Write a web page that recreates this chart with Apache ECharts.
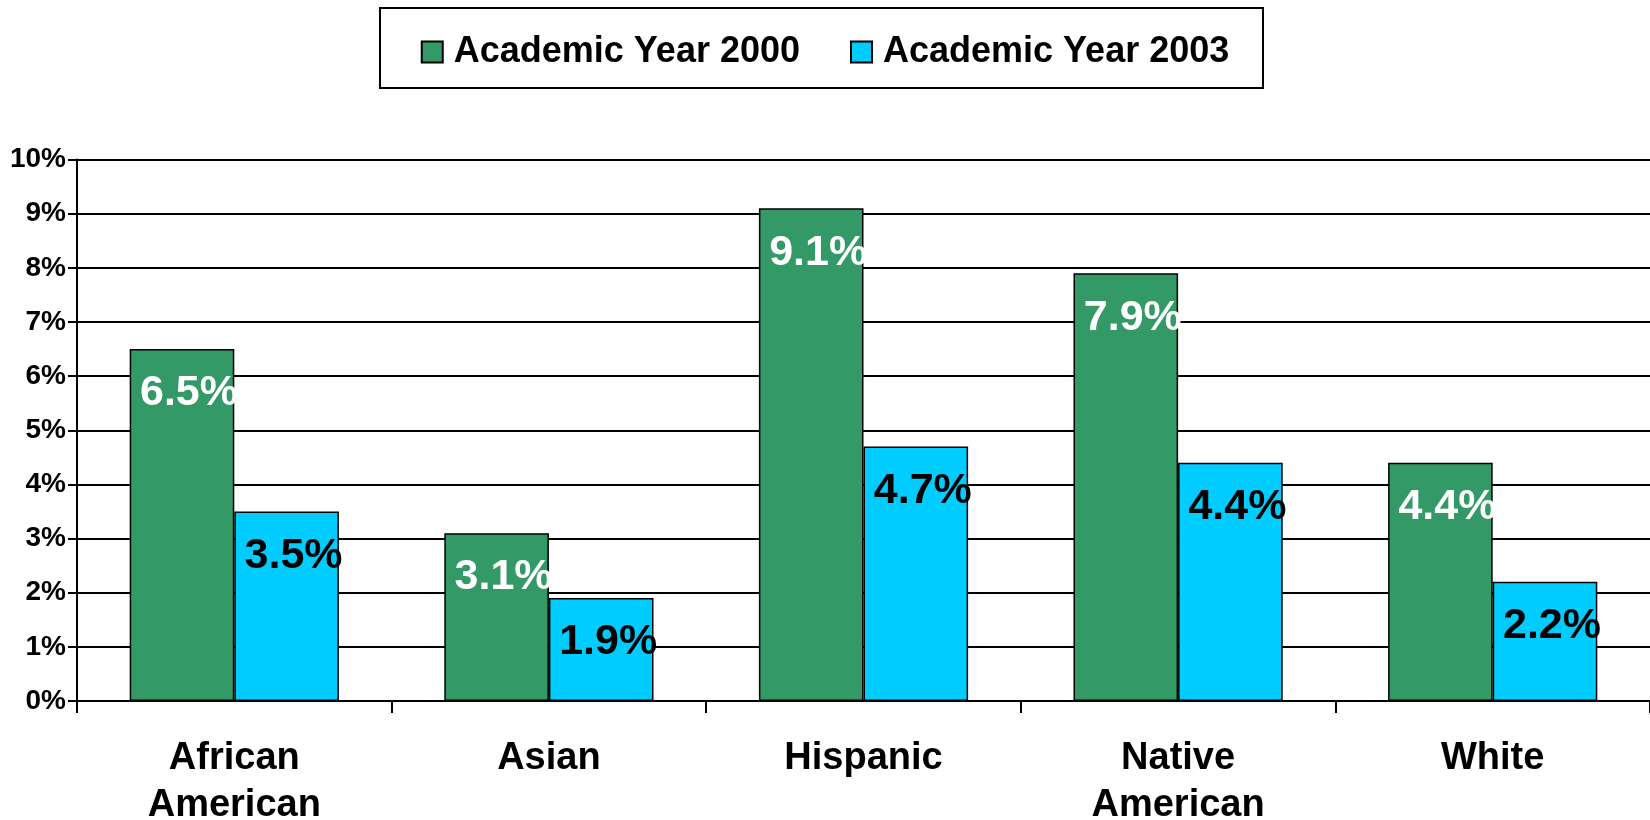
<!DOCTYPE html>
<html>
<head>
<meta charset="utf-8">
<script src="https://cdn.jsdelivr.net/npm/echarts@6/dist/echarts.min.js"></script>
<style>html,body{margin:0;padding:0;background:#fff}#c{width:1650px;height:820px}</style>
</head>
<body>
<div id="c"></div>
<script>
const categories = ['African\nAmerican', 'Asian', 'Hispanic', 'Native\nAmerican', 'White'];
const seriesNames = ['Academic Year 2000', 'Academic Year 2003'];
const year2000 = [6.5, 3.1, 9.1, 7.9, 4.4];
const year2003 = [3.5, 1.9, 4.7, 4.4, 2.2];
const yTicks = ['0%','1%','2%','3%','4%','5%','6%','7%','8%','9%','10%'];

const FONT = '"Liberation Sans", Arial, sans-serif';
const chart = echarts.init(document.getElementById('c'), null, {renderer: 'canvas'});

function barLabel(color) {
  return {
    show: true, position: 'insideTop', distance: 23, offset: [7, 0],
    formatter: p => p.value.toFixed(1) + '%',
    color: color, fontFamily: FONT, fontWeight: 'bold', fontSize: 43
  };
}

chart.setOption({
  animation: false,
  backgroundColor: '#fff',
  graphic: [{
    type: 'rect', left: 379, top: 7,
    shape: {width: 883, height: 80},
    style: {fill: '#fff', stroke: '#000', lineWidth: 2},
    z: -1
  }],
  legend: {
    left: 'center', top: 29,
    itemWidth: 21, itemHeight: 21, itemGap: 50,
    icon: 'rect',
    textStyle: {fontFamily: FONT, fontWeight: 'bold', fontSize: 36, color: '#000', padding: [0, 0, 0, 6]},
    data: seriesNames
  },
  grid: {left: 77, right: 0, top: 159.5, bottom: 119, containLabel: false, outerBoundsMode: 'none'},
  xAxis: {
    type: 'category', data: categories,
    axisLine: {lineStyle: {color: '#000', width: 2}},
    axisTick: {show: true, length: 12, lineStyle: {color: '#000', width: 2}},
    axisLabel: {color: '#000', fontFamily: FONT, fontWeight: 'bold', fontSize: 38, lineHeight: 47, margin: 34}
  },
  yAxis: {
    type: 'value', min: 0, max: 10, interval: 1,
    axisLine: {show: true, lineStyle: {color: '#000', width: 2}},
    axisTick: {show: true, length: 9, lineStyle: {color: '#000', width: 2}},
    axisLabel: {color: '#000', fontFamily: FONT, fontWeight: 'bold', fontSize: 28, margin: 11,
      formatter: v => yTicks[Math.round(v)]},
    splitLine: {lineStyle: {color: '#000', width: 2}}
  },
  series: [
    {name: seriesNames[0], type: 'bar', data: year2000, barGap: '0%', barCategoryGap: '33.5%',
     itemStyle: {color: '#339966', borderColor: '#000', borderWidth: 1.5},
     label: barLabel('#fff')},
    {name: seriesNames[1], type: 'bar', data: year2003, barGap: '0%', barCategoryGap: '33.5%',
     itemStyle: {color: '#00CCFF', borderColor: '#000', borderWidth: 1.5},
     label: barLabel('#000')}
  ]
});
</script>
</body>
</html>
